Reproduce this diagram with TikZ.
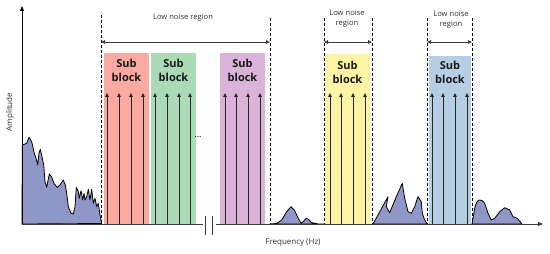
\documentclass[tikz,border=0pt]{standalone}
\usepackage{fontspec}
\setmainfont{Open Sans}
\usetikzlibrary{arrows.meta}
\definecolor{cSalmon}{RGB}{250,170,160}
\definecolor{cGreen}{RGB}{170,218,182}
\definecolor{cPurple}{RGB}{218,180,216}
\definecolor{cYellow}{RGB}{255,244,165}
\definecolor{cBlue}{RGB}{182,206,228}
\definecolor{cSpec}{RGB}{143,151,201}
\definecolor{cAxis}{RGB}{60,60,60}
\tikzset{
  subblk/.style={draw=none, minimum width=45pt, inner sep=0pt, anchor=north west},
  blktext/.style={font=\bfseries\fontsize{11}{14}\selectfont, align=center, text=black!90},
  sig/.style={line width=0.9pt, black!85, -{Triangle[length=4pt,width=3.6pt]}},
  region/.style={densely dashed, line width=0.7pt, black},
  span/.style={line width=0.8pt, cAxis, {Triangle[length=4pt,width=3.6pt]}-{Triangle[length=4pt,width=3.6pt]}},
  spec/.style={fill=cSpec, draw=black, line width=0.8pt, line join=round},
  lbl/.style={font=\fontsize{7.6}{10.5}\selectfont, align=center, text=black!80},
  axlbl/.style={font=\fontsize{8}{9}\selectfont, text=black!80}
}
\begin{document}
\begin{tikzpicture}[x=1pt,y=-1pt]
\useasboundingbox (0,0) rectangle (550,254);
% blocks
\node[subblk, fill=cSalmon, minimum width=45pt, minimum height=171pt] (b1) at (104,53) {};
\node[subblk, fill=cGreen, minimum width=45pt, minimum height=171pt] (b2) at (151,53) {};
\node[subblk, fill=cPurple, minimum width=45pt, minimum height=171pt] (b3) at (220,53) {};
\node[subblk, fill=cYellow, minimum width=45pt, minimum height=170pt] (b4) at (325,54) {};
\node[subblk, fill=cBlue, minimum width=42pt, minimum height=168pt] (b5) at (429,56) {};
\node[blktext] (t1) at (126.5,70) {Sub\\block};
\node[blktext] (t2) at (173.5,70) {Sub\\block};
\node[blktext] (t3) at (242.5,70) {Sub\\block};
\node[blktext] (t4) at (347.5,72) {Sub\\block};
\node[blktext] (t5) at (450,72) {Sub\\block};
% signal arrows
\foreach \x in {107,119,131,143, 155,167,179,190, 225,236,248,260, 330,341,353,365, 432,443,455,467}
  \draw[sig] (\x,224) -- (\x,93);
\node[font=\fontsize{9}{9}\selectfont] (dots) at (198,137) {...};
% spectra
\draw[spec] (22,224) -- (22.3,145) -- (26.7,143.3) -- (29,137.3) -- (31.7,141.7) -- (34.3,153.3) -- (36,158) -- (37.7,165) -- (39,153) -- (40.3,149.3) -- (42,156.7) -- (43.7,165) -- (45,181.7) -- (46.7,187.3) -- (49.3,174) -- (51.7,177.3) -- (54.3,184) -- (57.3,187.3) -- (60,185) -- (63.3,180) -- (65.3,185) -- (66.7,193.3) -- (68.3,206.7) -- (71,213.3) -- (73.3,214) -- (75,206.7) -- (76.3,187.3) -- (78.3,191.7) -- (79.3,198.3) -- (81,190.7) -- (82.7,200) -- (84,193.3) -- (85,200) -- (86.7,196.7) -- (88.3,189.3) -- (90,200) -- (91.7,189.3) -- (93.3,203.3) -- (95,198.3) -- (96.7,206.7) -- (98.3,203.3) -- (100,215) -- (101.7,223.5) -- cycle;
\draw[spec] (270,224) -- (276.7,223.5) -- (281.7,220) -- (286.7,211.7) -- (291,206.7) -- (294.3,210) -- (298.3,218.3) -- (301,223) -- (303.3,221.7) -- (306,218.3) -- (308.3,219.3) -- (311.7,222.7) -- (318.3,224) -- (324,224) -- cycle;
\draw[spec] (373,224) -- (388,196.7) -- (386.3,206.7) -- (389.7,212.7) -- (396.3,196.7) -- (402.3,183.3) -- (404.7,198.3) -- (408,211.7) -- (411.3,213.3) -- (414.7,206.7) -- (418,196.7) -- (421.3,201.7) -- (422.3,213.3) -- (424.7,220) -- (427.3,224) -- cycle;
\draw[spec] (472,224) -- (474.7,208.3) .. controls (476,202) and (478,200) .. (479.7,200) .. controls (483,200) and (485,203) .. (486,207) -- (488,213.3) -- (491.3,220) -- (494.7,218.3) -- (499.7,211.7) -- (504.7,207.7) -- (509.7,210) -- (513,216.7) -- (517.3,218.3) -- (520.7,222.3) -- (522,224) -- cycle;
% axes
\coordinate (o) at (22,224);
\coordinate (ytop) at (22,6);
\coordinate (xa) at (203,224);
\coordinate (xb) at (216,224);
\coordinate (xend) at (543,224);
\draw[line width=0.9pt, black, -{Triangle[length=5pt,width=4pt]}] (o) -- (ytop);
\draw[line width=0.9pt, cAxis] (o) -- (xa);
\draw[line width=0.9pt, cAxis, -{Triangle[length=5pt,width=4pt]}] (xb) -- (xend);
\draw[line width=0.9pt, cAxis] (205,216) -- (205,235);
\draw[line width=0.9pt, cAxis] (212,216) -- (212,235);
\node[axlbl, rotate=90] (amp) at (10,112) {Amplitude};
\node[axlbl] (freq) at (293,243) {Frequency (Hz)};
% regions
\draw[region] (101,15) -- (101,224);
\draw[region] (270,18) -- (270,224);
\draw[region] (324,18) -- (324,224);
\draw[region] (372,18) -- (372,224);
\draw[region] (427,18) -- (427,224);
\draw[region] (472,18) -- (472,224);
\coordinate (r1a) at (101,42); \coordinate (r1b) at (270,42);
\coordinate (r2a) at (324,42); \coordinate (r2b) at (372,42);
\coordinate (r3a) at (427,42); \coordinate (r3b) at (472,42);
\draw[span] (r1a) -- (r1b);
\draw[span] (r2a) -- (r2b);
\draw[span] (r3a) -- (r3b);
\node[lbl] (l1) at (183,18) {Low noise region};
\node[lbl] (l2) at (347,18.5) {Low noise\\region};
\node[lbl] (l3) at (451,19.5) {Low noise\\region};
\end{tikzpicture}
\end{document}
